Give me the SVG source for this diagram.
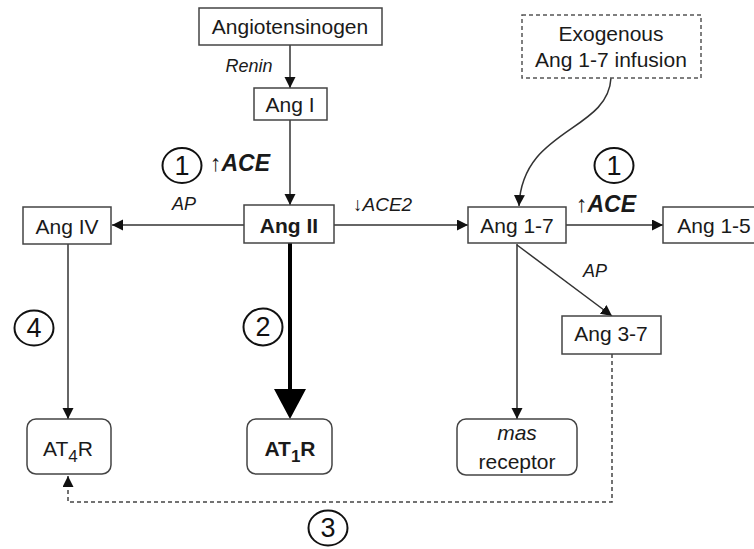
<svg xmlns="http://www.w3.org/2000/svg" width="754" height="549" viewBox="0 0 754 549">
<style>
.box{fill:#fff;stroke:#444;stroke-width:1.5}
.dbox{fill:#fff;stroke:#555;stroke-width:1.5;stroke-dasharray:4 3}
.t{font-family:"Liberation Sans",Arial,sans-serif;font-size:21px;fill:#1a1a1a;text-anchor:middle}
.b{font-weight:bold}
.i{font-style:italic}
.lab{font-family:"Liberation Sans",Arial,sans-serif;fill:#1a1a1a}
.ln{fill:none;stroke:#333;stroke-width:1.5}
.dl{fill:none;stroke:#444;stroke-width:1.5;stroke-dasharray:4 3}
.circ{fill:none;stroke:#111;stroke-width:2}
.num{font-family:"Liberation Sans",Arial,sans-serif;font-size:27px;fill:#111;text-anchor:middle}
</style>
<defs>
<marker id="arr" markerUnits="userSpaceOnUse" markerWidth="12" markerHeight="12" refX="11" refY="5.5" orient="auto">
<path d="M0,0 L11,5.5 L0,11 z" fill="#111"/>
</marker>
</defs>
<g id="connectors">
<line class="ln" x1="290" y1="45" x2="290" y2="88" marker-end="url(#arr)"/>
<line class="ln" x1="290" y1="120" x2="290" y2="205" marker-end="url(#arr)"/>
<line class="ln" x1="244" y1="225" x2="112" y2="225" marker-end="url(#arr)"/>
<line class="ln" x1="334" y1="225" x2="468" y2="225" marker-end="url(#arr)"/>
<line class="ln" x1="566" y1="225" x2="663" y2="225" marker-end="url(#arr)"/>
<line class="ln" x1="68" y1="244" x2="68" y2="419" marker-end="url(#arr)"/>
<line x1="290" y1="243" x2="290" y2="392" stroke="#000" stroke-width="4"/>
<polygon points="274,389 306,389 290,419" fill="#000"/>
<line class="ln" x1="517" y1="244" x2="517" y2="419" marker-end="url(#arr)"/>
<line class="ln" x1="517" y1="245" x2="612" y2="316" marker-end="url(#arr)"/>
<path class="dl" d="M612,354 L612,502 L68,502 L68,476" marker-end="url(#arr)"/>
<path class="ln" d="M611,78 C608,132 522,128 519,206" marker-end="url(#arr)"/>
</g>
<g id="angiotensinogen">
<rect class="box" x="199" y="8" width="183" height="37"/>
<text class="t" x="290" y="34">Angiotensinogen</text>
</g>
<g id="ang1">
<rect class="box" x="254" y="88" width="73" height="32"/>
<text class="t" x="290" y="112">Ang I</text>
</g>
<g id="ang2">
<rect class="box" x="244" y="205" width="90" height="38"/>
<text class="t b" x="289" y="233" font-size="23">Ang II</text>
</g>
<g id="ang4">
<rect class="box" x="23" y="207" width="88" height="37"/>
<text class="t" x="67" y="234">Ang IV</text>
</g>
<g id="ang17">
<rect class="box" x="468" y="207" width="98" height="36"/>
<text class="t" x="517" y="233">Ang 1-7</text>
</g>
<g id="ang15">
<rect class="box" x="663" y="207" width="100" height="36"/>
<text class="t" x="714" y="233">Ang 1-5</text>
</g>
<g id="ang37">
<rect class="box" x="562" y="316" width="99" height="38"/>
<text class="t" x="611" y="341">Ang 3-7</text>
</g>
<g id="exogenous">
<rect class="dbox" x="522" y="15" width="179" height="63"/>
<text class="t" x="611" y="41">Exogenous</text>
<text class="t" x="611" y="67">Ang 1-7 infusion</text>
</g>
<g id="at4r">
<rect class="box" x="27" y="419" width="84" height="55" rx="9"/>
<text class="t" x="68" y="456" font-size="27">AT<tspan font-size="17" dy="6">4</tspan><tspan dy="-6">R</tspan></text>
</g>
<g id="at1r">
<rect class="box" x="247" y="419" width="85" height="55" rx="9"/>
<text class="t b" x="290" y="456" font-size="27">AT<tspan font-size="17" dy="6">1</tspan><tspan dy="-6">R</tspan></text>
</g>
<g id="mas">
<rect class="box" x="457" y="419" width="120" height="56" rx="9"/>
<text class="t i" x="517" y="440" font-size="26">mas</text>
<text class="t" x="517" y="469" font-size="26">receptor</text>
</g>
<g id="labels">
<text class="lab i" x="249" y="72" font-size="18" text-anchor="middle">Renin</text>
<text class="lab i" x="184" y="210" font-size="18" text-anchor="middle">AP</text>
<text class="lab i" x="595" y="277" font-size="18" text-anchor="middle">AP</text>
<text class="lab i" x="353" y="211" font-size="19">↓ACE2</text>
<text class="lab b i" x="210" y="171" font-size="23">↑ACE</text>
<text class="lab b i" x="576" y="212" font-size="23">↑ACE</text>
</g>
<g id="circled-numbers">
<ellipse class="circ" cx="182" cy="165.5" rx="19.5" ry="17.5"/>
<text class="num" x="182" y="175">1</text>
<ellipse class="circ" cx="614" cy="165.5" rx="19.5" ry="17.5"/>
<text class="num" x="614" y="175">1</text>
<ellipse class="circ" cx="263" cy="327" rx="19.5" ry="18.5"/>
<text class="num" x="263" y="336">2</text>
<ellipse class="circ" cx="328" cy="528" rx="19.5" ry="17.5"/>
<text class="num" x="328" y="537">3</text>
<ellipse class="circ" cx="34" cy="328" rx="19.5" ry="17.5"/>
<text class="num" x="34" y="337">4</text>
</g>
</svg>
